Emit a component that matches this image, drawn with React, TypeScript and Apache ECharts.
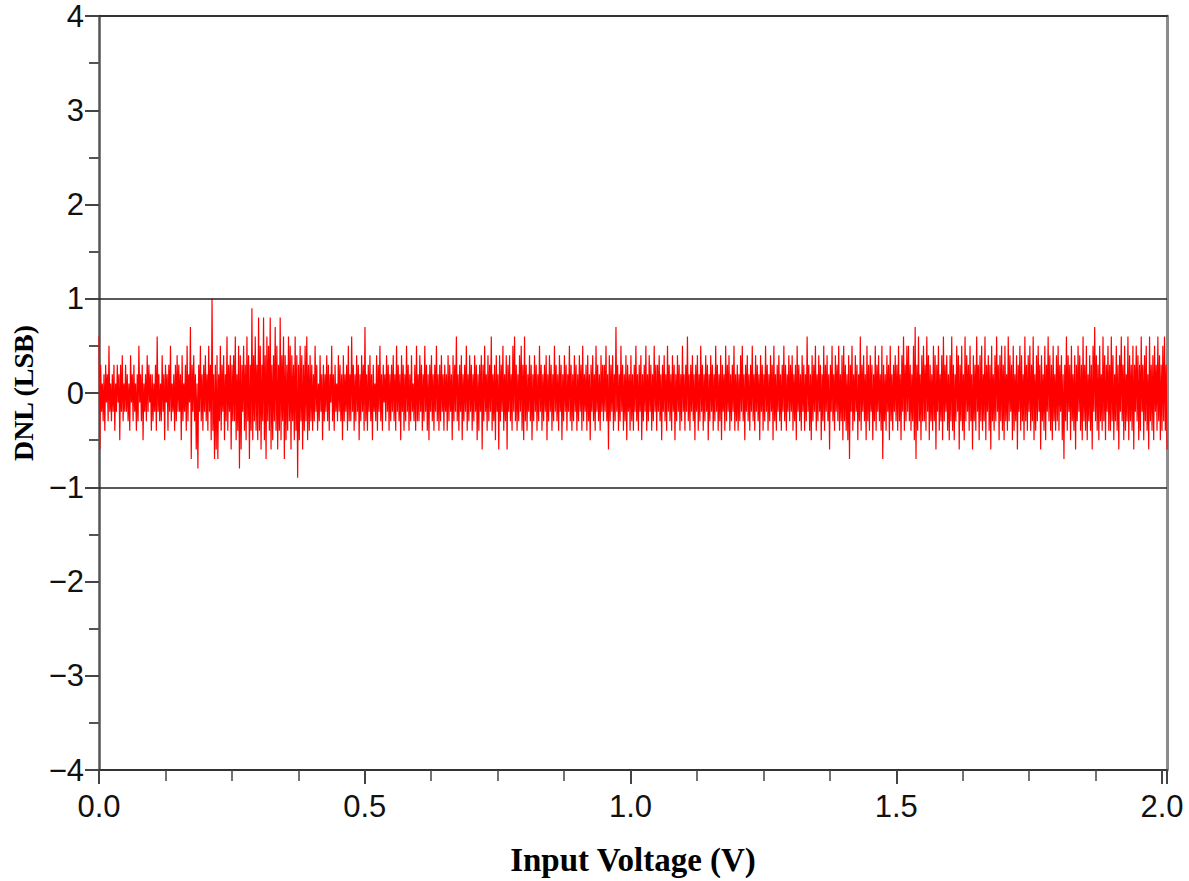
import React, { useEffect, useRef } from "react";
import * as echarts from "echarts";

// DNL values (LSB), in order of input code (one row ≈ 0.05 V)
const dnlA = [
  .6,-.6,.3,-.2,.1,-.3,.2,-.4,.3,-.1,.2,-.3,.5,-.2,.1,-.3,.2,-.2,.3,-.4,.1,-.2,.3,-.1,.2,-.5,.3,-.2,.4,-.3,.1,-.2,
  .3,-.2,.2,-.3,.1,-.4,.4,-.1,.2,-.3,.3,-.2,.1,-.4,.2,-.3,.5,-.1,.2,-.3,.3,-.5,.1,-.2,.2,-.3,.4,-.2,.3,-.1,.2,-.4,
  .2,-.3,.1,-.2,.3,-.4,.6,-.2,.2,-.3,.1,-.3,.4,-.2,.2,-.5,.3,-.1,.2,-.4,.3,-.2,.5,-.3,.1,-.2,.2,-.4,.3,-.3,.4,-.2,
  .3,-.2,.2,-.5,.4,-.3,.1,-.2,.3,-.4,.5,-.3,.2,-.1,.7,-.7,.3,-.2,.4,-.3,.2,-.6,.1,-.8,.3,-.2,.5,-.3,.2,-.4,.3,-.2,
  .4,-.3,.2,-.4,.5,-.2,.3,-.5,1.0,-.4,.2,-.7,.3,-.6,.4,-.7,.2,-.3,.5,-.4,.3,-.2,.4,-.5,.2,-.3,.6,-.4,.3,-.2,.4,-.6,
  .3,-.3,.4,-.3,.6,-.5,.2,-.4,.5,-.8,.4,-.6,.3,-.2,.5,-.4,.3,-.5,.6,-.3,.4,-.7,.3,-.4,.9,-.5,.4,-.3,.6,-.4,.3,-.5,
  .8,-.4,.5,-.6,.3,-.3,.8,-.5,.4,-.7,.6,-.3,.5,-.4,.8,-.6,.3,-.5,.4,-.3,.7,-.4,.5,-.6,.3,-.4,.8,-.5,.4,-.3,.6,-.7,
  .4,-.5,.3,-.4,.6,-.3,.5,-.6,.4,-.3,.3,-.5,.6,-.4,.4,-.9,.3,-.5,.5,-.3,.4,-.6,.3,-.4,.5,-.3,.6,-.5,.3,-.4,.4,-.3,
  .3,-.4,.2,-.3,.5,-.2,.3,-.4,.1,-.3,.4,-.2,.2,-.5,.3,-.3,.2,-.2,.4,-.3,.3,-.4,.2,-.1,.5,-.3,.2,-.4,.3,-.2,.1,-.3,
  .4,-.2,.3,-.3,.2,-.5,.4,-.3,.2,-.2,.3,-.4,.5,-.3,.2,-.3,.6,-.2,.3,-.4,.2,-.3,.4,-.2,.3,-.5,.2,-.3,.4,-.2,.3,-.4,
];
const dnlB = [
  .7,-.3,.2,-.4,.3,-.2,.4,-.3,.2,-.5,.3,-.2,.1,-.3,.4,-.4,.3,-.2,.5,-.3,.2,-.4,.3,-.1,.2,-.3,.4,-.2,.3,-.4,.2,-.3,
  .3,-.2,.4,-.3,.2,-.4,.5,-.2,.3,-.3,.2,-.5,.4,-.2,.3,-.4,.2,-.3,.5,-.2,.3,-.4,.2,-.3,.4,-.2,.1,-.3,.3,-.4,.5,-.3,
  .2,-.3,.4,-.2,.3,-.4,.2,-.3,.5,-.2,.3,-.4,.2,-.5,.3,-.2,.4,-.3,.2,-.4,.3,-.2,.5,-.3,.2,-.4,.3,-.3,.4,-.2,.2,-.4,
  .3,-.2,.2,-.4,.4,-.3,.3,-.2,.2,-.5,.4,-.3,.3,-.2,.6,-.3,.2,-.4,.3,-.2,.4,-.5,.2,-.3,.3,-.2,.5,-.4,.2,-.3,.4,-.2,
  .3,-.4,.2,-.3,.4,-.2,.3,-.5,.2,-.4,.3,-.2,.4,-.6,.3,-.3,.5,-.2,.2,-.4,.4,-.3,.3,-.2,.6,-.4,.2,-.3,.3,-.5,.4,-.2,
  .2,-.6,.4,-.3,.3,-.2,.5,-.4,.2,-.3,.4,-.6,.3,-.2,.4,-.3,.2,-.4,.5,-.2,.6,-.3,.3,-.4,.2,-.3,.4,-.2,.5,-.4,.3,-.5,
  .6,-.3,.3,-.4,.2,-.2,.4,-.3,.3,-.5,.2,-.3,.4,-.2,.3,-.4,.2,-.3,.5,-.2,.3,-.4,.2,-.3,.3,-.2,.4,-.5,.2,-.3,.4,-.2,
  .3,-.4,.2,-.3,.5,-.2,.3,-.3,.2,-.4,.4,-.2,.3,-.5,.2,-.3,.4,-.2,.3,-.4,.2,-.2,.5,-.3,.3,-.4,.2,-.3,.4,-.2,.3,-.4,
  .2,-.3,.4,-.2,.3,-.4,.5,-.3,.2,-.2,.3,-.4,.4,-.3,.2,-.5,.3,-.2,.4,-.3,.2,-.4,.5,-.2,.3,-.3,.2,-.4,.4,-.2,.3,-.3,
  .3,-.2,.5,-.3,.2,-.6,.4,-.3,.3,-.2,.4,-.4,.2,-.3,.7,-.2,.3,-.4,.2,-.3,.5,-.2,.3,-.4,.2,-.3,.4,-.5,.3,-.2,.2,-.4,
];
const dnlC = [
  .4,-.3,.2,-.4,.3,-.2,.5,-.3,.2,-.4,.3,-.2,.4,-.5,.2,-.3,.3,-.2,.5,-.4,.2,-.3,.4,-.2,.3,-.4,.2,-.3,.5,-.2,.3,-.4,
  .3,-.2,.4,-.3,.2,-.5,.3,-.2,.4,-.3,.2,-.4,.5,-.2,.3,-.3,.2,-.4,.4,-.2,.3,-.5,.2,-.3,.4,-.2,.3,-.4,.2,-.3,.5,-.2,
  .2,-.4,.3,-.2,.6,-.3,.2,-.4,.3,-.2,.4,-.3,.2,-.5,.3,-.2,.4,-.4,.2,-.3,.5,-.2,.3,-.4,.2,-.3,.4,-.2,.3,-.5,.2,-.3,
  .4,-.2,.3,-.4,.2,-.3,.5,-.2,.3,-.4,.2,-.3,.4,-.5,.3,-.2,.2,-.4,.5,-.3,.3,-.2,.4,-.4,.2,-.3,.3,-.2,.5,-.4,.2,-.3,
  .3,-.4,.2,-.3,.4,-.2,.5,-.3,.2,-.5,.3,-.2,.4,-.3,.2,-.4,.3,-.2,.5,-.3,.2,-.4,.4,-.2,.3,-.3,.2,-.5,.4,-.2,.3,-.4,
  .2,-.3,.5,-.2,.3,-.4,.2,-.3,.4,-.2,.3,-.5,.5,-.3,.2,-.4,.3,-.2,.4,-.3,.2,-.4,.3,-.2,.5,-.3,.3,-.4,.2,-.2,.4,-.3,
  .3,-.2,.4,-.4,.2,-.3,.3,-.5,.5,-.2,.3,-.3,.2,-.4,.4,-.2,.3,-.4,.2,-.3,.6,-.2,.3,-.4,.2,-.5,.4,-.3,.3,-.2,.5,-.4,
  .2,-.3,.4,-.2,.3,-.5,.2,-.3,.5,-.4,.3,-.2,.4,-.3,.2,-.6,.3,-.2,.5,-.3,.2,-.4,.4,-.2,.3,-.3,.5,-.4,.2,-.3,.4,-.5,
  .5,-.3,.3,-.4,.2,-.5,.4,-.7,.3,-.2,.5,-.4,.2,-.3,.4,-.2,.3,-.5,.2,-.3,.6,-.4,.3,-.2,.4,-.3,.2,-.5,.5,-.3,.3,-.4,
  .4,-.2,.3,-.5,.2,-.3,.5,-.4,.3,-.2,.4,-.3,.2,-.4,.5,-.7,.3,-.3,.2,-.4,.4,-.2,.3,-.5,.5,-.3,.2,-.4,.3,-.2,.4,-.3,
];
const dnlD = [
  .3,-.4,.5,-.3,.2,-.5,.4,-.2,.6,-.4,.3,-.3,.5,-.2,.5,-.3,.3,-.4,.2,-.3,.5,-.5,.7,-.7,.3,-.4,.6,-.3,.2,-.5,.4,-.3,
  .5,-.3,.3,-.4,.6,-.2,.4,-.5,.3,-.3,.2,-.4,.5,-.3,.4,-.6,.3,-.2,.5,-.4,.2,-.3,.4,-.5,.6,-.3,.3,-.2,.4,-.4,.2,-.5,
  .4,-.3,.6,-.4,.3,-.5,.2,-.3,.5,-.2,.4,-.6,.3,-.3,.5,-.4,.2,-.5,.6,-.3,.4,-.2,.3,-.4,.5,-.3,.2,-.6,.4,-.3,.3,-.4,
  .6,-.2,.3,-.5,.4,-.3,.5,-.4,.2,-.3,.6,-.5,.3,-.2,.4,-.4,.3,-.6,.5,-.3,.2,-.4,.4,-.3,.6,-.2,.3,-.5,.4,-.3,.5,-.4,
  .3,-.5,.5,-.3,.2,-.4,.6,-.3,.4,-.2,.3,-.5,.5,-.4,.2,-.3,.4,-.6,.3,-.2,.5,-.4,.4,-.3,.2,-.5,.6,-.3,.3,-.4,.4,-.2,
  .5,-.4,.3,-.3,.6,-.5,.2,-.4,.4,-.3,.5,-.2,.3,-.6,.4,-.3,.2,-.4,.5,-.5,.3,-.2,.6,-.3,.4,-.4,.3,-.5,.5,-.3,.2,-.4,
  .4,-.3,.5,-.4,.3,-.2,.4,-.5,.2,-.7,.3,-.3,.6,-.4,.4,-.2,.3,-.5,.5,-.3,.2,-.4,.4,-.6,.3,-.3,.5,-.2,.4,-.4,.3,-.5,
  .6,-.3,.3,-.4,.5,-.5,.2,-.3,.4,-.4,.3,-.6,.5,-.2,.7,-.3,.4,-.4,.3,-.5,.5,-.3,.2,-.4,.6,-.3,.4,-.5,.3,-.2,.5,-.4,
  .3,-.4,.6,-.3,.4,-.5,.2,-.3,.5,-.4,.3,-.6,.4,-.2,.6,-.3,.3,-.5,.5,-.4,.2,-.3,.6,-.5,.4,-.3,.3,-.4,.5,-.6,.3,-.2,
  .5,-.3,.4,-.5,.3,-.4,.6,-.2,.3,-.5,.4,-.3,.5,-.4,.2,-.6,.6,-.3,.3,-.4,.4,-.5,.5,-.2,.3,-.4,.6,-.3,.4,-.5,.3,-.4,
  .5,-.3,.6,-.4,.3,-.6,
];

const X_MIN = 0;
const X_MAX = 2.0094; // full-scale input voltage (V)
const limitLines = [1, -1];

export default function App() {
  const ref = useRef<HTMLDivElement>(null);

  useEffect(() => {
    if (!ref.current) return;
    const chart = echarts.init(ref.current, undefined, { renderer: "svg" });
    const dnl = [...dnlA, ...dnlB, ...dnlC, ...dnlD];
    const n = dnl.length;
    const data = dnl.map((v, i) => [X_MIN + (i * (X_MAX - X_MIN)) / (n - 1), v]);

    const labelFont = {
      fontFamily: "Liberation Sans, Arial, sans-serif",
      fontSize: 31,
      color: "#111",
    };
    const nameFont = {
      fontFamily: "Liberation Serif, Times New Roman, serif",
      fontWeight: "bold" as const,
      color: "#000",
    };

    chart.setOption({
      animation: false,
      backgroundColor: "#fff",
      grid: { left: 99, right: 22, top: 16, bottom: 110, containLabel: false },
      xAxis: [
        {
          type: "value",
          min: X_MIN,
          max: X_MAX,
          interval: 0.5,
          name: "Input Voltage (V)",
          nameLocation: "middle",
          nameGap: 73,
          nameTextStyle: { ...nameFont, fontSize: 33 },
          axisLine: { show: true, onZero: false, lineStyle: { color: "#333", width: 2 } },
          axisTick: { show: true, inside: false, length: 14, lineStyle: { color: "#444", width: 2 } },
          minorTick: { show: true, splitNumber: 4, length: 11, lineStyle: { color: "#444", width: 1.5 } },
          axisLabel: {
            ...labelFont,
            margin: 21,
            formatter: (v: number) =>
              Math.abs(v * 2 - Math.round(v * 2)) < 1e-6 ? v.toFixed(1) : "",
          },
          splitLine: { show: false },
          minorSplitLine: { show: false },
        },
        {
          type: "value",
          position: "top",
          min: X_MIN,
          max: X_MAX,
          axisLine: { show: true, onZero: false, lineStyle: { color: "#333", width: 2 } },
          axisTick: { show: false },
          axisLabel: { show: false },
          splitLine: { show: false },
        },
      ],
      yAxis: [
        {
          type: "value",
          min: -4,
          max: 4,
          interval: 1,
          name: "DNL (LSB)",
          nameLocation: "middle",
          nameGap: 58,
          nameTextStyle: { ...nameFont, fontSize: 28 },
          axisLine: { show: true, onZero: false, lineStyle: { color: "#555", width: 2.5 } },
          axisTick: { show: true, inside: false, length: 14, lineStyle: { color: "#444", width: 2 } },
          minorTick: { show: true, splitNumber: 2, length: 10, lineStyle: { color: "#555", width: 2 } },
          axisLabel: {
            ...labelFont,
            margin: 15,
            formatter: (v: number) => (v < 0 ? "\u2212" + Math.abs(v) : String(v)),
          },
          splitLine: { show: false },
          minorSplitLine: { show: false },
        },
        {
          type: "value",
          position: "right",
          min: -4,
          max: 4,
          axisLine: { show: true, onZero: false, lineStyle: { color: "#8c8c8c", width: 3 } },
          axisTick: { show: false },
          axisLabel: { show: false },
          splitLine: { show: false },
        },
      ],
      series: [
        {
          type: "line",
          data,
          xAxisIndex: 0,
          yAxisIndex: 0,
          symbol: "none",
          lineStyle: { color: "#ff0000", width: 1.2 },
          itemStyle: { color: "#ff0000" },
          z: 2,
          markLine: {
            silent: true,
            symbol: "none",
            label: { show: false },
            lineStyle: { color: "#222", width: 1.5, type: "solid" },
            data: limitLines.map((y) => ({ yAxis: y })),
          },
        },
      ],
    });

    return () => chart.dispose();
  }, []);

  return (
    <div
      ref={ref}
      style={{ position: "absolute", left: 0, top: 0, width: 1189, height: 881 }}
    />
  );
}
